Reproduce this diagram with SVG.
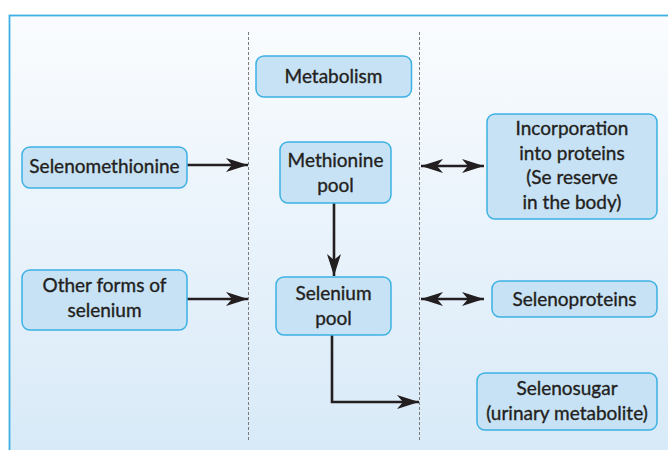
<svg xmlns="http://www.w3.org/2000/svg" width="668" height="450" viewBox="0 0 668 450">
  <defs>
    <linearGradient id="bg" x1="0" y1="0" x2="0" y2="1">
      <stop offset="0" stop-color="#fafcfe"/>
      <stop offset="1" stop-color="#d3e7f7"/>
    </linearGradient>
    <marker id="ah" viewBox="0 0 22 14" refX="22" refY="7" markerWidth="22" markerHeight="14" markerUnits="userSpaceOnUse" orient="auto-start-reverse">
      <path d="M0,0 L22,7 L0,14 L6,7 Z" fill="#231f20"/>
    </marker>
    <style>
      .box { fill: #c7e2f5; stroke: #3db1e3; stroke-width: 1.5; }
      .t { font-family: Lato, "Open Sans", "Liberation Sans", sans-serif; font-size: 19px; fill: #231f20; stroke: #231f20; stroke-width: 0.35; text-anchor: middle; }
      .dash { stroke: #7a7a7a; stroke-width: 1; stroke-dasharray: 3 2; fill: none; }
      .c { stroke: #231f20; stroke-width: 2.6; fill: none; }
    </style>
  </defs>
  <rect x="9.5" y="15.5" width="700" height="500" fill="url(#bg)" stroke="#3db1e3" stroke-width="1.8"/>
  <g id="dividers">
    <line class="dash" x1="248.5" y1="32" x2="248.5" y2="441"/>
    <line class="dash" x1="419.5" y1="32" x2="419.5" y2="441"/>
  </g>
  <g id="connectors">
    <path class="c" d="M187,165 L248,165" marker-end="url(#ah)"/>
    <path class="c" d="M187,299 L248,299" marker-end="url(#ah)"/>
    <path class="c" d="M334,203 L334,276" marker-end="url(#ah)"/>
    <path class="c" d="M421,166 L484,166" marker-start="url(#ah)" marker-end="url(#ah)"/>
    <path class="c" d="M421,299 L484,299" marker-start="url(#ah)" marker-end="url(#ah)"/>
    <path class="c" d="M332,335 L332,402 L419,402" marker-end="url(#ah)"/>
  </g>
  <g id="metabolism">
    <rect class="box" x="256" y="56" width="155.5" height="41" rx="8"/>
    <text class="t" x="333.5" y="83">Metabolism</text>
  </g>
  <g id="selenomethionine">
    <rect class="box" x="22" y="147" width="165" height="41" rx="8"/>
    <text class="t" x="104.5" y="173">Selenomethionine</text>
  </g>
  <g id="other-forms">
    <rect class="box" x="22" y="270" width="165" height="60" rx="8"/>
    <text class="t" x="104.5" y="292">Other forms of</text>
    <text class="t" x="104.5" y="317">selenium</text>
  </g>
  <g id="methionine-pool">
    <rect class="box" x="280" y="142" width="111" height="61" rx="8"/>
    <text class="t" x="335.5" y="167">Methionine</text>
    <text class="t" x="335.5" y="192">pool</text>
  </g>
  <g id="selenium-pool">
    <rect class="box" x="276" y="277" width="115" height="58" rx="8"/>
    <text class="t" x="333.5" y="300">Selenium</text>
    <text class="t" x="333.5" y="325">pool</text>
  </g>
  <g id="incorporation">
    <rect class="box" x="487" y="114" width="170" height="105" rx="8"/>
    <text class="t" x="572" y="135">Incorporation</text>
    <text class="t" x="572" y="159.5">into proteins</text>
    <text class="t" x="572" y="184">(Se reserve</text>
    <text class="t" x="572" y="208.5">in the body)</text>
  </g>
  <g id="selenoproteins">
    <rect class="box" x="492" y="281" width="165" height="36" rx="8"/>
    <text class="t" x="574.5" y="305.5">Selenoproteins</text>
  </g>
  <g id="selenosugar">
    <rect class="box" x="477" y="373" width="180" height="57" rx="8"/>
    <text class="t" x="567" y="395">Selenosugar</text>
    <text class="t" x="567" y="420">(urinary metabolite)</text>
  </g>
</svg>
